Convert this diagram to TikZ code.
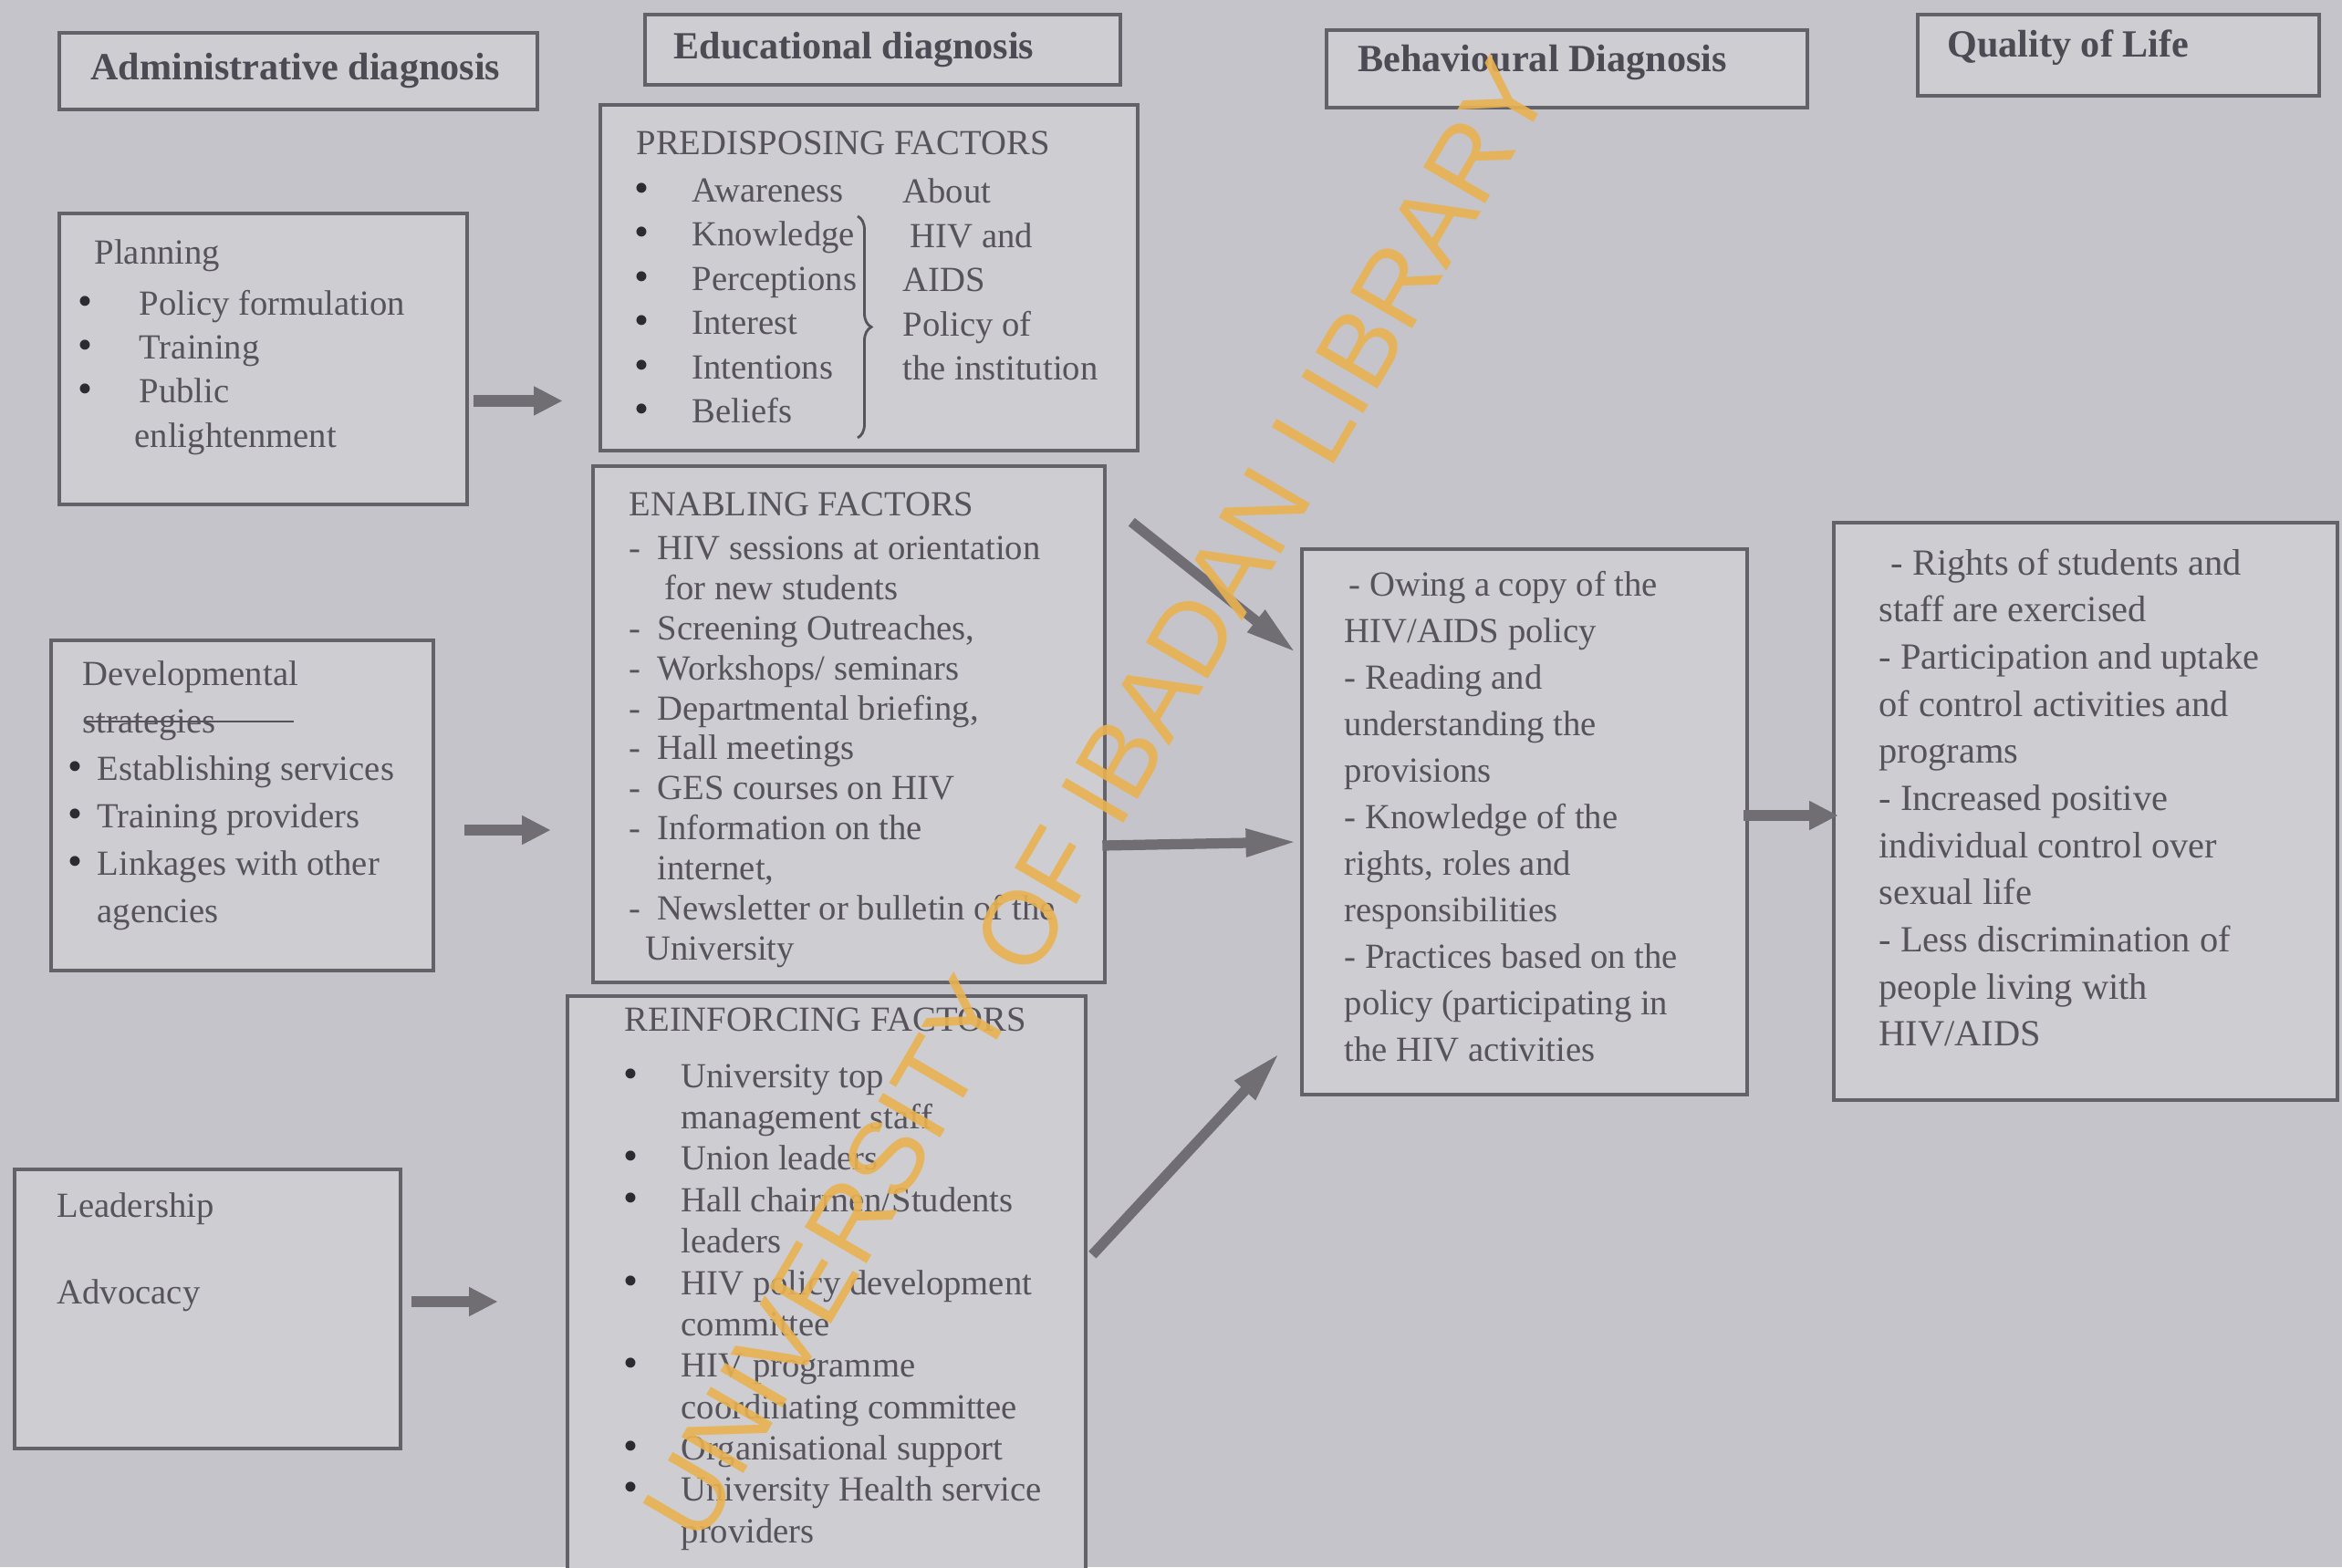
\documentclass[tikz,border=0pt]{standalone}
\usepackage{fontspec}
\setmainfont{Liberation Serif}
\newfontfamily\stampfont{Liberation Sans}
\usetikzlibrary{arrows.meta,decorations.pathreplacing}
\definecolor{paper}{RGB}{197,196,202}
\definecolor{boxfill}{RGB}{206,205,210}
\definecolor{ink}{RGB}{86,83,91}
\definecolor{headink}{RGB}{76,74,82}
\definecolor{dotink}{RGB}{45,43,50}
\definecolor{frame}{RGB}{100,98,105}
\definecolor{arrowgray}{RGB}{112,109,115}
\definecolor{stamporange}{RGB}{232,178,80}
\newcommand{\bul}[1]{\makebox[#1][l]{\textcolor{dotink}{\fontsize{13}{13}\selectfont\textbullet}}}
\newcommand{\dsh}[1]{\makebox[#1][l]{-}}
\newcommand{\ind}[1]{\hspace*{#1}}

\begin{document}
\begin{tikzpicture}[
    diagbox/.style={draw=frame,line width=1.3pt,fill=boxfill,rectangle,inner sep=0pt},
    headtext/.style={anchor=west,inner sep=0pt,text=headink,font=\fontsize{12}{14}\selectfont\bfseries},
    boxtext/.style={anchor=north west,inner sep=0pt,align=left,text=ink},
    fatarrow/.style={draw=arrowgray,line width=3.6pt,-{Triangle[length=9pt,width=8.5pt]}},
    longarrow/.style={draw=arrowgray,line width=3.2pt,-{Triangle[length=16pt,width=8pt]}}
  ]
    %% Paper
    \fill[paper] (0,0) rectangle (25.67,-17.18);
    \useasboundingbox (0,0) rectangle (25.67,-17.18);

    %% Diagnosis headings
    \node[diagbox,minimum width=5.24cm,minimum height=0.84cm] (adm) at (3.27,-0.78) {};
    \node[headtext] (admtext) at ([xshift=0.36cm]adm.west) {Administrative diagnosis};
    \node[diagbox,minimum width=5.21cm,minimum height=0.77cm] (edu) at (9.675,-0.545) {};
    \node[headtext] (edutext) at ([xshift=0.33cm]edu.west) {Educational diagnosis};
    \node[diagbox,minimum width=5.27cm,minimum height=0.85cm] (beh) at (17.175,-0.755) {};
    \node[headtext] (behtext) at ([xshift=0.36cm,yshift=0.065cm]beh.west) {Behavioural Diagnosis};
    \node[diagbox,minimum width=4.40cm,minimum height=0.89cm] (qol) at (23.22,-0.605) {};
    \node[headtext] (qoltext) at ([xshift=0.34cm,yshift=0.085cm]qol.west) {Quality of Life};

    %% Administrative column
    \node[diagbox,minimum width=4.47cm,minimum height=3.19cm] (plan) at (2.885,-3.935) {};
    \node[boxtext,font=\fontsize{11}{13.7}\selectfont] (plantext) at (0.85,-2.62)
      {\ind{0.18cm}Planning\\[0.08cm]
       \bul{0.67cm}Policy formulation\\
       \bul{0.67cm}Training\\
       \bul{0.67cm}Public\\
       \ind{0.62cm}enlightenment};
    \node[diagbox,minimum width=4.19cm,minimum height=3.62cm] (dev) at (2.655,-8.83) {};
    \node[boxtext,font=\fontsize{11}{14.8}\selectfont] (devtext) at (0.74,-7.24)
      {\ind{0.16cm}Developmental\\
       \ind{0.16cm}strategies\\
       \bul{0.32cm}Establishing services\\
       \bul{0.32cm}Training providers\\
       \bul{0.32cm}Linkages with other\\
       \ind{0.32cm}agencies};
    \draw[ink,line width=0.8pt] (0.92,-7.91) -- (3.22,-7.91);
    \node[diagbox,minimum width=4.23cm,minimum height=3.06cm] (lead) at (2.275,-14.35) {};
    \node[boxtext,font=\fontsize{11}{27}\selectfont] (leadtext) at (0.62,-13.07)
      {Leadership\\Advocacy};

    %% Educational column
    \node[diagbox,minimum width=5.89cm,minimum height=3.79cm] (pre) at (9.525,-3.045) {};
    \node[boxtext,font=\fontsize{11}{13}\selectfont] (pretitle) at (6.97,-1.43) {PREDISPOSING FACTORS};
    \node[boxtext,font=\fontsize{11}{13.8}\selectfont] (preleft) at (6.95,-1.95)
      {\bul{0.63cm}Awareness\\
       \bul{0.63cm}Knowledge\\
       \bul{0.63cm}Perceptions\\
       \bul{0.63cm}Interest\\
       \bul{0.63cm}Intentions\\
       \bul{0.63cm}Beliefs};
    \node[boxtext,font=\fontsize{11}{13.8}\selectfont] (preright) at (9.89,-1.95)
      {About\\
       \ind{0.08cm}HIV and\\
       AIDS\\
       Policy of\\
       the institution};
    \draw[ink,line width=0.8pt,decorate,decoration={brace,amplitude=0.15cm}] (9.40,-2.37) -- (9.40,-4.80);

    \node[diagbox,minimum width=5.61cm,minimum height=5.66cm] (ena) at (9.305,-7.94) {};
    \node[boxtext,font=\fontsize{11}{13}\selectfont] (enatitle) at (6.89,-5.39) {ENABLING FACTORS};
    \node[boxtext,font=\fontsize{11}{12.5}\selectfont] (enatext) at (6.89,-5.87)
      {\dsh{0.31cm}HIV sessions at orientation\\
       \ind{0.39cm}for new students\\
       \dsh{0.31cm}Screening Outreaches,\\
       \dsh{0.31cm}Workshops/ seminars\\
       \dsh{0.31cm}Departmental briefing,\\
       \dsh{0.31cm}Hall meetings\\
       \dsh{0.31cm}GES courses on HIV\\
       \dsh{0.31cm}Information on the\\
       \ind{0.31cm}internet,\\
       \dsh{0.31cm}Newsletter or bulletin of the\\
       \ind{0.18cm}University};

    \node[diagbox,minimum width=5.68cm,minimum height=6.48cm] (rei) at (9.06,-14.16) {};
    \node[boxtext,font=\fontsize{11}{13}\selectfont] (reititle) at (6.84,-11.04) {REINFORCING FACTORS};
    \node[boxtext,font=\fontsize{11}{12.9}\selectfont] (reitext) at (6.83,-11.66)
      {\bul{0.63cm}University top\\
       \ind{0.63cm}management staff\\
       \bul{0.63cm}Union leaders\\
       \bul{0.63cm}Hall chairmen/Students\\
       \ind{0.63cm}leaders\\
       \bul{0.63cm}HIV policy development\\
       \ind{0.63cm}committee\\
       \bul{0.63cm}HIV programme\\
       \ind{0.63cm}coordinating committee\\
       \bul{0.63cm}Organisational support\\
       \bul{0.63cm}University Health service\\
       \ind{0.63cm}providers};

    %% Behaviour and quality of life
    \node[diagbox,minimum width=4.88cm,minimum height=5.98cm] (bhv) at (16.71,-9.01) {};
    \node[boxtext,font=\fontsize{11}{14.5}\selectfont] (bhvtext) at (14.73,-6.26)
      {\ind{0.05cm}- Owing a copy of the\\
       HIV/AIDS policy\\
       - Reading and\\
       understanding the\\
       provisions\\
       - Knowledge of the\\
       rights, roles and\\
       responsibilities\\
       - Practices based on the\\
       policy (participating in\\
       the HIV activities};
    \node[diagbox,minimum width=5.52cm,minimum height=6.33cm] (qual) at (22.86,-8.895) {};
    \node[boxtext,font=\fontsize{11.5}{14.7}\selectfont] (qualtext) at (20.59,-6.01)
      {\ind{0.13cm}- Rights of students and\\
       staff are exercised\\
       - Participation and uptake\\
       of control activities and\\
       programs\\
       - Increased positive\\
       individual control over\\
       sexual life\\
       - Less discrimination of\\
       people living with\\
       HIV/AIDS};

    %% Arrows
    \draw[fatarrow,shorten <=0.05cm,shorten >=0.39cm] ([yshift=-0.46cm]plan.east) -- ([yshift=-0.46cm]plan.east -| pre.west);
    \draw[fatarrow,shorten <=0.32cm,shorten >=0.44cm] ([yshift=-0.27cm]dev.east) -- ([yshift=-0.27cm]dev.east -| ena.west);
    \draw[fatarrow,shorten <=0.10cm,shorten >=0.74cm] ([yshift=0.08cm]lead.east) -- ([yshift=0.08cm]lead.east -| rei.west);
    \draw[longarrow] ([shift={(-0.09,-0.76)}]pre.south east) -- ([shift={(-0.04,-1.16)}]bhv.north west);
    \draw[longarrow] ([shift={(-0.05,-1.33)}]ena.east) -- ([shift={(-0.03,-0.22)}]bhv.west);
    \draw[longarrow] ([shift={(0.05,-2.86)}]rei.north east) -- ([shift={(-0.22,0.48)}]bhv.south west);
    \draw[fatarrow,shorten <=-0.06cm,shorten >=-0.07cm] ([yshift=0.07cm]bhv.east) -- ([yshift=0.07cm]bhv.east -| qual.west);

    %% Library stamp
    \node[rotate=59.7,text=stamporange,font=\stampfont\fontsize{32.5}{32.5}\selectfont,inner sep=0pt,opacity=0.9] (stamp) at (12.02,-8.76) {UNIVERSITY OF IBADAN LIBRARY};
\end{tikzpicture}
\end{document}
